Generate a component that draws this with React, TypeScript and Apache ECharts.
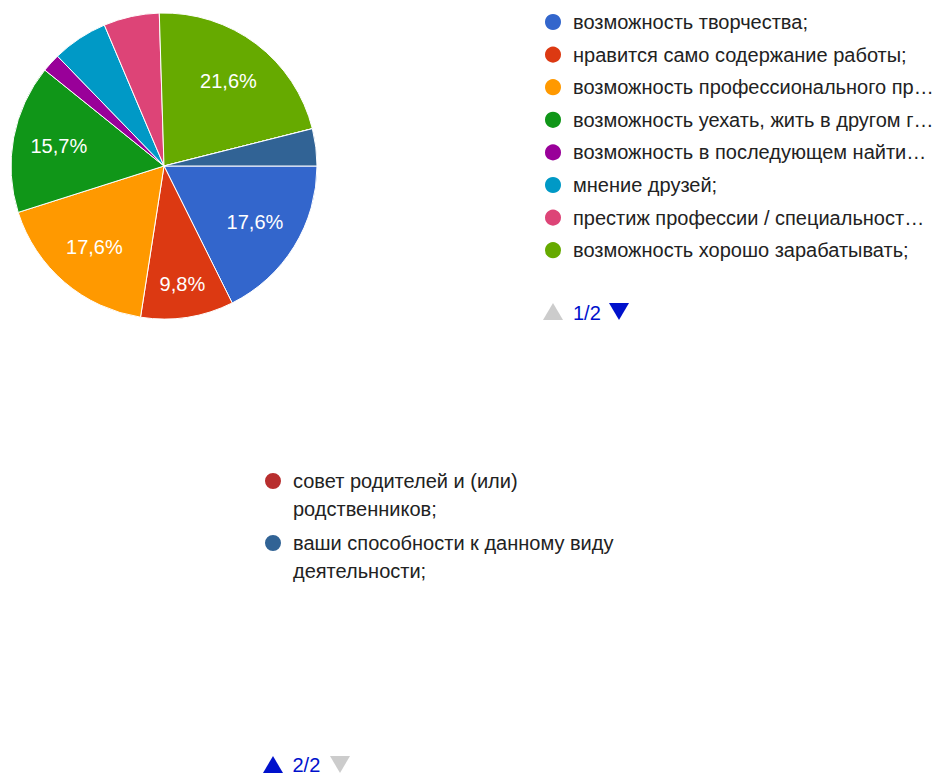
import React, { useEffect, useRef } from 'react';
import * as echarts from 'echarts';

const categories = [
  'возможность творчества;',
  'нравится само содержание работы;',
  'возможность профессионального продвижения;',
  'возможность уехать, жить в другом городе;',
  'возможность в последующем найти работу;',
  'мнение друзей;',
  'престиж профессии / специальности;',
  'возможность хорошо зарабатывать;',
  'совет родителей и (или) родственников;',
  'ваши способности к данному виду деятельности;',
];
const counts = [9, 5, 9, 8, 1, 3, 3, 11, 0, 2];
const colors = [
  '#3366cc', '#dc3912', '#ff9900', '#109618', '#990099',
  '#0099c6', '#dd4477', '#66aa00', '#b82e2e', '#316395',
];
const page1Count = 8;
const pagerLabels = ['1/2', '2/2'];

const FONT = '"Liberation Sans", Arial, sans-serif';
const FONT_SIZE = 20;
const BLUE = '#0011cc';
const GRAY = '#cccccc';
// circle at the top of a tall box so it lines up with the first text line
const TOP_CIRCLE = 'path://M9,0 M0,14 A9,9 0 1,1 18,14 A9,9 0 1,1 0,14 Z M9,56';

function makeMeasure() {
  const canvas = document.createElement('canvas');
  const ctx = canvas.getContext('2d');
  if (ctx) ctx.font = `${FONT_SIZE}px ${FONT}`;
  return (s: string) => (ctx ? ctx.measureText(s).width : s.length * FONT_SIZE * 0.5);
}

// truncate when the full text is wider than `limit`; the shortened text plus ellipsis may use up to `maxW`
function truncate(s: string, limit: number, maxW: number, measure: (s: string) => number) {
  if (measure(s) <= limit) return s;
  let t = s;
  while (t.length > 0 && measure(t.trimEnd() + '…') > maxW) t = t.slice(0, -1);
  return t.trimEnd() + '…';
}

function wrap(s: string, maxW: number, measure: (s: string) => number) {
  const words = s.split(' ');
  const lines: string[] = [];
  let cur = '';
  words.forEach((w) => {
    const next = cur ? cur + ' ' + w : w;
    if (cur && measure(next) > maxW) {
      lines.push(cur);
      cur = w;
    } else {
      cur = next;
    }
  });
  if (cur) lines.push(cur);
  return lines.join('\n');
}

export default function App() {
  const ref = useRef<HTMLDivElement>(null);
  useEffect(() => {
    if (!ref.current) return;
    const chart = echarts.init(ref.current, null, { renderer: 'svg' });
    const measure = makeMeasure();
    const total = counts.reduce((a, b) => a + b, 0);
    const data = categories.map((name, i) => ({
      name,
      value: counts[i],
      itemStyle: { color: colors[i] },
    }));
    chart.setOption({
      animation: false,
      legend: [
        {
          orient: 'vertical',
          left: 543,
          top: 10.5,
          padding: 0,
          data: categories.slice(0, page1Count),
          icon: 'circle',
          itemWidth: 18,
          itemHeight: 18,
          itemGap: 9.6,
          selectedMode: false,
          formatter: (name: string) => truncate(name, 340, 362, measure),
          textStyle: {
            fontFamily: FONT,
            fontSize: FONT_SIZE,
            lineHeight: 23,
            color: '#222222',
            padding: [0, 0, 0, 6],
          },
        },
        {
          orient: 'vertical',
          left: 263,
          top: 466,
          padding: 0,
          data: categories.slice(page1Count),
          icon: TOP_CIRCLE,
          itemWidth: 18,
          itemHeight: 56,
          itemGap: 4,
          selectedMode: false,
          formatter: (name: string) => wrap(name, 345, measure),
          textStyle: {
            fontFamily: FONT,
            fontSize: FONT_SIZE,
            lineHeight: 28,
            color: '#222222',
            padding: [0, 0, 0, 6],
          },
        },
      ],
      graphic: [
        { type: 'polygon', shape: { points: [[543, 320], [563, 320], [553, 303]] }, style: { fill: GRAY } },
        { type: 'text', x: 573, y: 312.5, style: { text: pagerLabels[0], fill: BLUE, font: `${FONT_SIZE}px ${FONT}`, verticalAlign: 'middle' } },
        { type: 'polygon', shape: { points: [[609, 303], [629, 303], [619, 320]] }, style: { fill: BLUE } },
        { type: 'polygon', shape: { points: [[263, 773], [283, 773], [273, 756]] }, style: { fill: BLUE } },
        { type: 'text', x: 292.5, y: 764.5, style: { text: pagerLabels[1], fill: BLUE, font: `${FONT_SIZE}px ${FONT}`, verticalAlign: 'middle' } },
        { type: 'polygon', shape: { points: [[330, 756], [350, 756], [340, 773]] }, style: { fill: GRAY } },
      ],
      series: [
        {
          type: 'pie',
          center: [164, 166],
          radius: [0, 153],
          startAngle: 0,
          clockwise: true,
          silent: true,
          label: { show: false },
          labelLine: { show: false },
          itemStyle: { borderColor: '#ffffff', borderWidth: 1 },
          data,
        },
        {
          type: 'pie',
          center: [164, 166],
          radius: [0, 208],
          startAngle: 0,
          clockwise: true,
          silent: true,
          itemStyle: { color: 'rgba(0,0,0,0)' },
          labelLine: { show: false },
          label: {
            show: true,
            position: 'inside',
            color: '#ffffff',
            fontFamily: FONT,
            fontSize: FONT_SIZE,
            formatter: (p: any) => {
              const pct = (p.value / total) * 100;
              return pct >= 9 ? pct.toFixed(1).replace('.', ',') + '%' : '';
            },
          },
          labelLayout: (p: any) => (p.dataIndex === 1 ? { dx: 2, dy: 12 } : {}),
          data: categories.map((name, i) => ({ name, value: counts[i] })),
        },
      ],
    });
    return () => chart.dispose();
  }, []);
  return (
    <div
      ref={ref}
      style={{ position: 'fixed', left: 0, top: 0, width: 939, height: 776, background: '#ffffff' }}
    />
  );
}
